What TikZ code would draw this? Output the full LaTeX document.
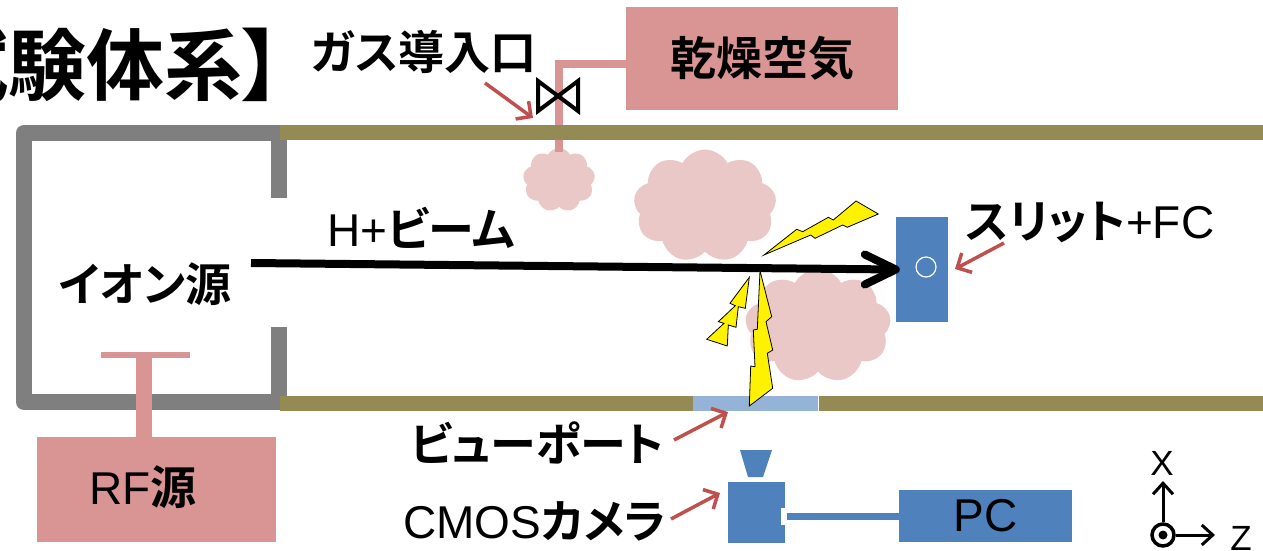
\documentclass[tikz,border=0pt]{standalone}
\usepackage{fontspec}
\setmainfont{Liberation Sans}
\newfontfamily\jp{Noto Sans CJK JP Bold}[RawFeature=+palt]
\usetikzlibrary{arrows.meta,shapes.symbols,calc}

\definecolor{wallgray}{HTML}{7F7F7F}
\definecolor{tubeolive}{HTML}{948A54}
\definecolor{boxpink}{HTML}{D99594}
\definecolor{gascloud}{RGB}{232,190,190}
\definecolor{devblue}{HTML}{4F81BD}
\definecolor{portblue}{HTML}{95B3D7}
\definecolor{callred}{HTML}{C0504D}

\newcommand\labelsize{\fontsize{46}{52}\selectfont}
\newcommand\titlesize{\fontsize{78}{86}\selectfont}
\newcommand\axissize{\fontsize{35}{40}\selectfont}

\tikzset{
  lbl/.style={inner sep=0pt, font=\labelsize},
  callout/.style={draw=callred, line width=3.5pt,
    -{Straight Barb[length=11pt,width=22pt]}},
  gaspuff/.style={cloud, cloud puffs=9, cloud puff arc=125, aspect=1.3,
    fill=gascloud, fill opacity=0.85, draw=none, inner sep=0pt},
  bolt/.style={fill=yellow, draw=black, line width=0.8pt, line join=miter},
  pinkbox/.style={fill=boxpink, draw=none, inner sep=0pt, font=\labelsize},
  bluebox/.style={fill=devblue, draw=none, inner sep=0pt},
  axisarrow/.style={line width=3pt, -{Straight Barb[length=11pt,width=20pt]}},
}

\begin{document}
\begin{tikzpicture}[x=1pt,y=-1pt]
\useasboundingbox (0,0) rectangle (1263,551);

% heading, running off the left edge
\node[inner sep=0pt, font=\titlesize, anchor=base west] (title) at (-70,94) {\jp 試験体系】};

% gas clouds inside the chamber
\node[gaspuff, minimum width=72pt, minimum height=64pt] (puff0) at (559,180) {};
\node[gaspuff, minimum width=143pt, minimum height=113pt] (puff1) at (705,206) {};
\node[gaspuff, minimum width=146pt, minimum height=114pt] (puff2) at (818,326) {};

% dry air supply, valve and feed pipe
\node[pinkbox, minimum width=272pt, minimum height=103pt] (air) at (762,58.5) {\jp 乾燥空気};
\coordinate (valve) at (558,96);
\coordinate (feed) at (559,152);
\draw[boxpink, line width=8pt] (feed) -- (559,64) -- (air.west |- 559,64);
\draw[black, line width=4pt, line join=miter]
  ($(valve)+(-20,-15)$) -- ($(valve)+(20,15)$) -- ($(valve)+(20,-15)$)
  -- ($(valve)+(-20,15)$) -- cycle;

% ion source housing
\draw[wallgray, line width=16pt, line join=round]
  (279,198) -- (279,133) -- (24,133) -- (24,402) -- (279,402) -- (279,327);

% beam tube walls and view port
\draw[tubeolive, line width=15pt] (280,132.5) -- (1263,132.5);
\draw[tubeolive, line width=15pt] (280,403) -- (693,403);
\draw[tubeolive, line width=15pt] (819,403) -- (1263,403);
\node[fill=portblue, inner sep=0pt, minimum width=125pt, minimum height=15pt] (port) at (755.5,403) {};

% RF supply
\coordinate (rfbar) at (144,354.5);
\node[pinkbox, minimum width=239pt, minimum height=105pt] (rf) at (156.5,489.5) {};
\node[lbl] (rftext) at (143,487) {RF{\jp 源}};
\draw[boxpink, line width=6pt] (101,354.5) -- (190,354.5);
\draw[boxpink, line width=16pt] (rfbar) -- (rfbar |- rf.north);

% slit and Faraday cup
\node[bluebox, minimum width=52pt, minimum height=105pt] (slit) at (922,269.5) {};
\draw[white, line width=1.2pt] (926,267) circle (10);

% labels
\node[lbl] (ion) at (145,284) {\jp イオン源};
\node[lbl] (beamlbl) at (421,228) {H+{\jp ビーム}};
\node[lbl] (gaslbl) at (424,52) {\jp ガス導入口};
\node[lbl] (slitlbl) at (1090,222) {{\jp スリット}+FC};
\node[lbl] (portlbl) at (537,443) {\jp ビューポート};
\node[lbl] (camlbl) at (535,521) {CMOS{\jp カメラ}};

% H+ beam
\coordinate (beamstart) at (251,263);
\draw[line width=8pt] (beamstart) -- (slit.west);
\draw[line width=8pt, line cap=round, line join=round]
  ($(slit.west)+(-31,-15)$) -- (slit.west) -- ($(slit.west)+(-31,15)$);

% light emission
\draw[bolt] (764,255) -- (796.7,229.3) -- (802.7,231.7) -- (828.3,217.3) -- (833.3,220)
  -- (856,201) -- (878.3,214) -- (847.3,227.3) -- (842.7,225) -- (815,238.3)
  -- (810.7,235) -- cycle;
\draw[bolt] (749.3,277.3) -- (730,303.3) -- (735.3,305.7) -- (718.3,321.7) -- (724,323.3)
  -- (706.7,339.3) -- (727.3,346) -- (728.3,325) -- (736,327.3) -- (738.3,306.7)
  -- (745.3,308.3) -- cycle;
\draw[bolt] (760,270.7) -- (771.7,316.7) -- (766,321.7) -- (772.7,350) -- (767.3,353.3)
  -- (772.7,388.3) -- (749.3,406) -- (750.7,366) -- (755,366.7) -- (753.3,330)
  -- (757.3,329.3) -- cycle;

% camera and PC
\draw[bluebox] (740,450) -- (772,450) -- (763,477) -- (748,477) -- cycle;
\node[bluebox, minimum width=57pt, minimum height=61pt] (cam) at (756.5,512.5) {};
\fill[white] (781,508) rectangle (786,525);
\node[bluebox, minimum width=173pt, minimum height=52pt, font=\labelsize] (pc) at (985.5,516) {PC};
\draw[devblue, line width=7pt] (787,516) -- (pc.west);

% callout arrows
\coordinate (gastail) at (485,83);
\coordinate (gastip) at (533,118);
\draw[callout] (gastail) -- (gastip);
\coordinate (slittail) at (1004,243);
\draw[callout] (slittail) -- (955,269) coordinate (slittip);
\coordinate (porttail) at (674,440);
\coordinate (porttip) at (728,412);
\draw[callout] (porttail) -- (porttip);
\coordinate (camtail) at (671,519);
\coordinate (camtip) at (720,493);
\draw[callout] (camtail) -- (camtip);

% axes: x up, z right, y out of the page
\coordinate (origin) at (1163,535);
\draw[line width=3.5pt] (origin) circle (11);
\fill (origin) circle (4.5);
\draw[axisarrow] ($(origin)+(0,-13)$) -- ($(origin)+(0,-54)$) coordinate (xtip);
\draw[axisarrow] ($(origin)+(13,0)$) -- ($(origin)+(52,0)$) coordinate (ztip);
\node[inner sep=0pt, font=\axissize] (xlbl) at (1162,463) {X};
\node[inner sep=0pt, font=\axissize] (zlbl) at (1241,538) {Z};
\end{tikzpicture}
\end{document}
